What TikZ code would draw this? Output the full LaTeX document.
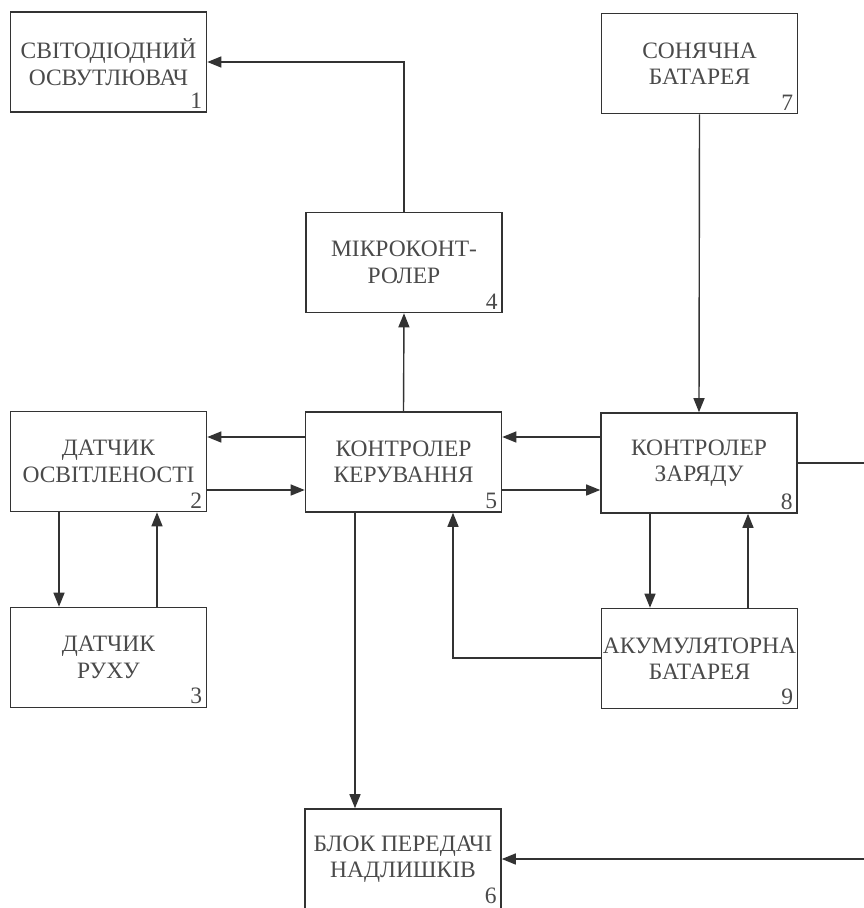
\documentclass[tikz,border=0pt]{standalone}
\usepackage{fontspec}
\setmainfont{Liberation Serif}
\usetikzlibrary{arrows.meta}
\definecolor{linec}{HTML}{333333}
\definecolor{textc}{HTML}{4A4A4A}
\tikzset{
  blockbox/.style={draw=linec, line width=1.6pt, minimum width=196pt, minimum height=100pt,
    inner sep=0pt, align=center, text=textc, font=\fontsize{23.5}{26.5}\selectfont},
  numlbl/.style={anchor=south east, inner xsep=5pt, inner ysep=4pt, text=textc,
    font=\fontsize{23.5}{26.5}\selectfont},
  arr/.style={draw=linec, line width=1.4pt, -{Triangle[length=14pt,width=11pt]}},
  plain/.style={draw=linec, line width=1.4pt}
}
\begin{document}
\begin{tikzpicture}[x=1pt,y=-1pt]
\useasboundingbox (0,0) rectangle (864,908);
% boxes
\node[blockbox] (b1) at (108.5,62) {СВІТОДІОДНИЙ\\ОСВУТЛЮВАЧ};
\node[blockbox] (b7) at (699.5,63.5) {СОНЯЧНА\\БАТАРЕЯ};
\node[blockbox] (b4) at (404,262.5) {МІКРОКОНТ-\\РОЛЕР};
\node[blockbox] (b2) at (108.5,461.5) {ДАТЧИК\\ОСВІТЛЕНОСТІ};
\node[blockbox] (b5) at (403.5,462) {КОНТРОЛЕР\\КЕРУВАННЯ};
\node[blockbox] (b8) at (699,463) {КОНТРОЛЕР\\ЗАРЯДУ};
\node[blockbox] (b3) at (108.5,657.5) {ДАТЧИК\\РУХУ};
\node[blockbox] (b9) at (699.5,658.5) {АКУМУЛЯТОРНА\\БАТАРЕЯ};
\node[blockbox] (b6) at (403,859) {БЛОК ПЕРЕДАЧІ\\НАДЛИШКІВ};
% numbers
\node[numlbl] (n1) at (b1.south east) {1};
\node[numlbl] (n2) at (b2.south east) {2};
\node[numlbl] (n3) at (b3.south east) {3};
\node[numlbl] (n4) at (b4.south east) {4};
\node[numlbl] (n5) at (b5.south east) {5};
\node[numlbl, inner ysep=6pt] (n6) at (b6.south east) {6};
\node[numlbl] (n7) at (b7.south east) {7};
\node[numlbl] (n8) at (b8.south east) {8};
\node[numlbl] (n9) at (b9.south east) {9};
% connectors
\draw[arr] (b4.north) |- (b1.east);
\draw[arr] (b5.north) -- (b4.south);
\draw[arr] (b5.west |- 0,437) -- (b2.east |- 0,437);
\draw[arr] (b2.east |- 0,490) -- (b5.west |- 0,490);
\draw[arr] (b8.west |- 0,437) -- (b5.east |- 0,437);
\draw[arr] (b5.east |- 0,490) -- (b8.west |- 0,490);
\draw[arr] (b2.south -| 59,0) -- (b3.north -| 59,0);
\draw[arr] (b3.north -| 157,0) -- (b2.south -| 157,0);
\draw[arr] (b8.south -| 650,0) -- (b9.north -| 650,0);
\draw[arr] (b9.north -| 748,0) -- (b8.south -| 748,0);
\draw[arr] (b7.south) -- (b8.north);
\draw[arr] (b5.south -| 355,0) -- (b6.north -| 355,0);
\draw[arr] (b9.west |- 0,658) -| (b5.south -| 453,0);
\coordinate (r1) at (866,463);
\coordinate (r2) at (866,859);
\draw[plain] (b8.east |- r1) -- (r1);
\draw[arr] (r2) -- (b6.east |- r2);
\end{tikzpicture}
\end{document}
